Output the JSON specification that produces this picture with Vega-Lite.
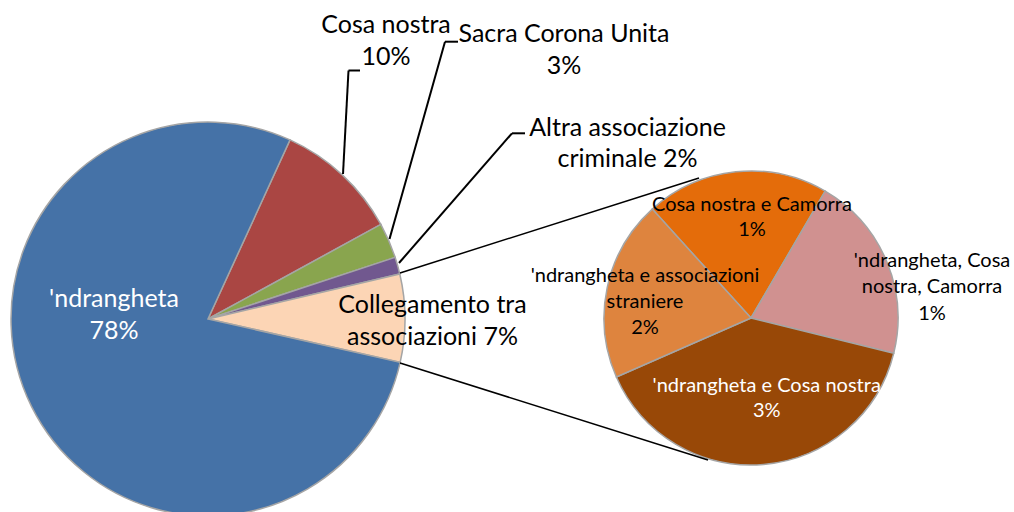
{
  "$schema": "https://vega.github.io/schema/vega-lite/v6.json",
  "width": 1014,
  "height": 512,
  "padding": 0,
  "autosize": {"type": "none"},
  "background": "white",
  "config": {"view": {"stroke": null}, "text": {"font": "Lato"}},
  "data": {"values": [{}]},
  "datasets": {
    "main": [
      {"cat": "Cosa nostra", "value": 10.2, "ord": 1},
      {"cat": "Sacra Corona Unita", "value": 2.9, "ord": 2},
      {"cat": "Altra associazione criminale", "value": 1.4, "ord": 3},
      {"cat": "Collegamento tra associazioni", "value": 7.2, "ord": 4},
      {"cat": "'ndrangheta", "value": 78.3, "ord": 5}
    ],
    "detail": [
      {"cat": "Cosa nostra e Camorra", "value": 1.41, "ord": 1},
      {"cat": "'ndrangheta, Cosa nostra, Camorra", "value": 1.43, "ord": 2},
      {"cat": "'ndrangheta e Cosa nostra", "value": 2.77, "ord": 3},
      {"cat": "'ndrangheta e associazioni straniere", "value": 1.39, "ord": 4}
    ]
  },
  "layer": [
    {
      "data": {"name": "main"},
      "mark": {"type": "arc", "outerRadius": 197, "stroke": "#A5A5A5", "strokeWidth": 1.5},
      "encoding": {
        "x": {"datum": 208, "type": "quantitative", "scale": {"domain": [0, 1014], "nice": false, "zero": false}, "axis": null},
        "y": {"datum": 319, "type": "quantitative", "scale": {"domain": [0, 512], "nice": false, "zero": false, "reverse": true}, "axis": null},
        "theta": {"field": "value", "type": "quantitative", "stack": true, "scale": {"range": [0.4294, 6.7126]}},
        "order": {"field": "ord", "type": "quantitative"},
        "color": {"field": "cat", "type": "nominal", "legend": null,
          "scale": {
            "domain": ["'ndrangheta", "Cosa nostra", "Sacra Corona Unita", "Altra associazione criminale", "Collegamento tra associazioni", "Cosa nostra e Camorra", "'ndrangheta, Cosa nostra, Camorra", "'ndrangheta e Cosa nostra", "'ndrangheta e associazioni straniere"],
            "range": ["#4572A7", "#AA4643", "#89A54E", "#71588F", "#FCD5B5", "#E46C0A", "#D09190", "#984807", "#DE843E"]
          }}
      }
    },
    {
      "data": {"name": "detail"},
      "mark": {"type": "arc", "outerRadius": 147, "stroke": "#A5A5A5", "strokeWidth": 1.5},
      "encoding": {
        "x": {"datum": 751, "type": "quantitative", "scale": {"domain": [0, 1014], "nice": false, "zero": false}, "axis": null},
        "y": {"datum": 318, "type": "quantitative", "scale": {"domain": [0, 512], "nice": false, "zero": false, "reverse": true}, "axis": null},
        "theta": {"field": "value", "type": "quantitative", "stack": true, "scale": {"range": [5.5467, 11.8299]}},
        "order": {"field": "ord", "type": "quantitative"},
        "color": {"field": "cat", "type": "nominal", "legend": null}
      }
    },
    {"mark": {"type": "rule", "color": "black", "strokeWidth": 1.5}, "encoding": {
      "x": {"datum": 400, "type": "quantitative"}, "y": {"datum": 273, "type": "quantitative"},
      "x2": {"datum": 699}, "y2": {"datum": 178}}},
    {"mark": {"type": "rule", "color": "black", "strokeWidth": 1.5}, "encoding": {
      "x": {"datum": 400, "type": "quantitative"}, "y": {"datum": 363, "type": "quantitative"},
      "x2": {"datum": 708}, "y2": {"datum": 460}}},
    {"mark": {"type": "rule", "color": "black", "strokeWidth": 2}, "encoding": {
      "x": {"datum": 360, "type": "quantitative"}, "y": {"datum": 70.5, "type": "quantitative"},
      "x2": {"datum": 348.5}, "y2": {"datum": 70.5}}},
    {"mark": {"type": "rule", "color": "black", "strokeWidth": 2}, "encoding": {
      "x": {"datum": 348.5, "type": "quantitative"}, "y": {"datum": 70.5, "type": "quantitative"},
      "x2": {"datum": 343}, "y2": {"datum": 174}}},
    {"mark": {"type": "rule", "color": "black", "strokeWidth": 2}, "encoding": {
      "x": {"datum": 458, "type": "quantitative"}, "y": {"datum": 41.7, "type": "quantitative"},
      "x2": {"datum": 445}, "y2": {"datum": 41.7}}},
    {"mark": {"type": "rule", "color": "black", "strokeWidth": 2}, "encoding": {
      "x": {"datum": 445, "type": "quantitative"}, "y": {"datum": 41.7, "type": "quantitative"},
      "x2": {"datum": 389.5}, "y2": {"datum": 239}}},
    {"mark": {"type": "rule", "color": "black", "strokeWidth": 2}, "encoding": {
      "x": {"datum": 525, "type": "quantitative"}, "y": {"datum": 133.3, "type": "quantitative"},
      "x2": {"datum": 512}, "y2": {"datum": 133.3}}},
    {"mark": {"type": "rule", "color": "black", "strokeWidth": 2}, "encoding": {
      "x": {"datum": 512, "type": "quantitative"}, "y": {"datum": 133.3, "type": "quantitative"},
      "x2": {"datum": 399}, "y2": {"datum": 263}}},
    {"mark": {"type": "text", "text": ["'ndrangheta", "78%"], "fontSize": 25, "lineHeight": 32, "align": "center", "baseline": "alphabetic", "color": "white"},
     "encoding": {"x": {"datum": 114, "type": "quantitative"}, "y": {"datum": 307, "type": "quantitative"}}},
    {"mark": {"type": "text", "text": ["Cosa nostra", "10%"], "fontSize": 25, "lineHeight": 32, "align": "center", "baseline": "alphabetic", "color": "black"},
     "encoding": {"x": {"datum": 386, "type": "quantitative"}, "y": {"datum": 33, "type": "quantitative"}}},
    {"mark": {"type": "text", "text": ["Sacra Corona Unita", "3%"], "fontSize": 25, "lineHeight": 32, "align": "center", "baseline": "alphabetic", "color": "black"},
     "encoding": {"x": {"datum": 564, "type": "quantitative"}, "y": {"datum": 41.7, "type": "quantitative"}}},
    {"mark": {"type": "text", "text": ["Altra associazione", "criminale 2%"], "fontSize": 25, "lineHeight": 31, "align": "center", "baseline": "alphabetic", "color": "black"},
     "encoding": {"x": {"datum": 627.5, "type": "quantitative"}, "y": {"datum": 135.5, "type": "quantitative"}}},
    {"mark": {"type": "text", "text": ["Collegamento tra", "associazioni 7%"], "fontSize": 25, "lineHeight": 32, "align": "center", "baseline": "alphabetic", "color": "black"},
     "encoding": {"x": {"datum": 432.5, "type": "quantitative"}, "y": {"datum": 313.3, "type": "quantitative"}}},
    {"mark": {"type": "text", "text": ["Cosa nostra e Camorra", "1%"], "fontSize": 20, "lineHeight": 25, "align": "center", "baseline": "alphabetic", "color": "black"},
     "encoding": {"x": {"datum": 752, "type": "quantitative"}, "y": {"datum": 210.7, "type": "quantitative"}}},
    {"mark": {"type": "text", "text": ["'ndrangheta e associazioni", "straniere", "2%"], "fontSize": 20, "lineHeight": 26, "align": "center", "baseline": "alphabetic", "color": "black"},
     "encoding": {"x": {"datum": 645, "type": "quantitative"}, "y": {"datum": 281.7, "type": "quantitative"}}},
    {"mark": {"type": "text", "text": ["'ndrangheta, Cosa", "nostra, Camorra", "1%"], "fontSize": 20, "lineHeight": 26.5, "align": "center", "baseline": "alphabetic", "color": "black"},
     "encoding": {"x": {"datum": 932, "type": "quantitative"}, "y": {"datum": 266.7, "type": "quantitative"}}},
    {"mark": {"type": "text", "text": ["'ndrangheta e Cosa nostra", "3%"], "fontSize": 20, "lineHeight": 25, "align": "center", "baseline": "alphabetic", "color": "white"},
     "encoding": {"x": {"datum": 766.7, "type": "quantitative"}, "y": {"datum": 391.7, "type": "quantitative"}}}
  ],
  "resolve": {"scale": {"theta": "independent"}}
}
